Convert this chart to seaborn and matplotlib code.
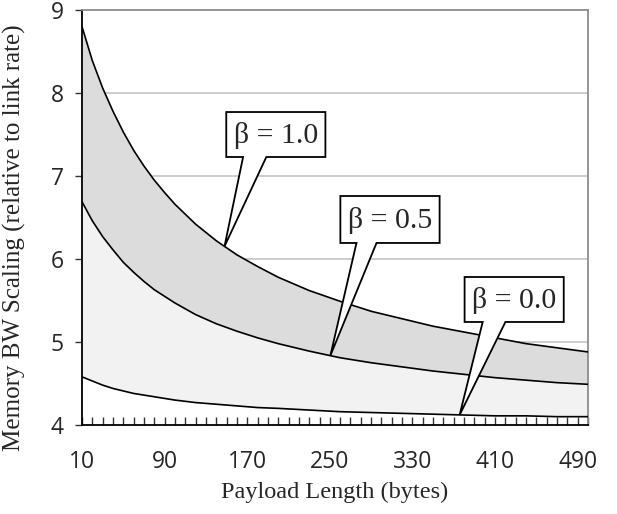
import numpy as np
import pandas as pd
import matplotlib
matplotlib.use('Agg')
import matplotlib.pyplot as plt
import seaborn as sns
from matplotlib.patches import Polygon
from matplotlib.ticker import MultipleLocator, FixedLocator

# payload lengths (bytes) and memory BW scaling
payload = [10, 20, 30, 40, 50, 60, 70, 80, 90, 100, 120, 140, 160, 180, 200,
           230, 260, 290, 320, 350, 380, 410, 440, 470, 500]
beta_10 = [8.80, 8.39, 8.06, 7.78, 7.53, 7.31, 7.12, 6.95, 6.80, 6.66, 6.42, 6.22, 6.05, 5.91, 5.78,
           5.62, 5.49, 5.37, 5.28, 5.19, 5.12, 5.05, 4.98, 4.93, 4.88]
beta_05 = [6.69, 6.46, 6.27, 6.11, 5.96, 5.84, 5.73, 5.63, 5.55, 5.47, 5.33, 5.22, 5.13, 5.05, 4.98,
           4.89, 4.81, 4.75, 4.70, 4.65, 4.61, 4.57, 4.54, 4.51, 4.49]
beta_00 = [4.58, 4.53, 4.48, 4.44, 4.41, 4.38, 4.36, 4.34, 4.32, 4.30, 4.27, 4.25, 4.23, 4.21, 4.20,
           4.18, 4.16, 4.15, 4.14, 4.13, 4.12, 4.11, 4.11, 4.10, 4.10]
xtick_labels = [10, 90, 170, 250, 330, 410, 490]
callout_text = ['β = 1.0', 'β = 0.5', 'β = 0.0']

df = pd.DataFrame({'payload': payload, '1.0': beta_10, '0.5': beta_05, '0.0': beta_00})
long = df.melt(id_vars='payload', var_name='beta', value_name='scaling')

sns.set_style('white')
plt.rcParams['font.family'] = ['Liberation Serif', 'DejaVu Serif']

fig = plt.figure(figsize=(6.17, 5.14), dpi=100)
ax = fig.add_axes([0.1329, 0.1732, 0.953 - 0.1329, 0.9805 - 0.1732])

# shaded bands
ax.fill_between(df['payload'], df['0.5'], df['1.0'], color='#dcdcdc', lw=0, zorder=1)
ax.fill_between(df['payload'], df['0.0'], df['0.5'], color='#f2f2f2', lw=0, zorder=1)

sns.lineplot(data=long, x='payload', y='scaling', hue='beta',
             palette=['black', 'black', 'black'], linewidth=1.2,
             legend=False, ax=ax, zorder=3)

ax.set_xlim(10, 500)
ax.set_ylim(4, 9)
for yv in [5, 6, 7, 8]:
    ax.axhline(yv, color='#c4c4c4', lw=1.2, zorder=0.5)

# axes frame
for side in ['left', 'bottom']:
    ax.spines[side].set_color('black')
    ax.spines[side].set_linewidth(1.3)
for side in ['top', 'right']:
    ax.spines[side].set_color('#8c8c8c')
    ax.spines[side].set_linewidth(1.3)
    ax.spines[side].set_visible(True)

ax.xaxis.set_major_locator(FixedLocator(xtick_labels))
ax.xaxis.set_minor_locator(MultipleLocator(10))
ax.set_xticklabels([str(v) for v in xtick_labels], family='Open Sans', fontsize=16.5)
ax.tick_params(axis='x', which='both', direction='in', length=6, width=1, color='#333333', pad=18, bottom=True)
ax.set_yticks([4, 5, 6, 7, 8, 9])
ax.set_yticklabels(['4', '5', '6', '7', '8', '9'], family='Open Sans', fontsize=16.5)
ax.tick_params(axis='y', which='major', direction='out', length=5, width=1, color='#333333', pad=8, left=True)

ax.set_xlabel('Payload Length (bytes)', fontsize=17.5, labelpad=6)
ax.set_ylabel('Memory BW Scaling (relative to link rate)', fontsize=18)
ax.yaxis.set_label_coords(-0.111, 0.452)


def callout(x0, x1, ytop, ybot, tb0, tb1, tipx, series, text):
    tipy = np.interp(tipx, payload, series)
    pts = [(x0, ytop), (x1, ytop), (x1, ybot), (tb1, ybot), (tipx, tipy),
           (tb0, ybot), (x0, ybot)]
    ax.add_patch(Polygon(pts, closed=True, facecolor='white', edgecolor='black',
                         lw=1.3, zorder=5, joinstyle='miter'))
    ax.text((x0 + x1) / 2, (ytop + ybot) / 2 - 0.01, text, ha='center', va='center',
            fontsize=21.5, zorder=6)


callout(149.7, 245.7, 7.771, 7.229, 166, 188.5, 148, beta_10, callout_text[0])
callout(260.2, 356.3, 6.759, 6.193, 275.8, 295.2, 250.5, beta_05, callout_text[1])
callout(380.5, 476.5, 5.783, 5.241, 398, 420, 375.7, beta_00, callout_text[2])

fig.savefig('out.png', dpi=100, facecolor='white')
